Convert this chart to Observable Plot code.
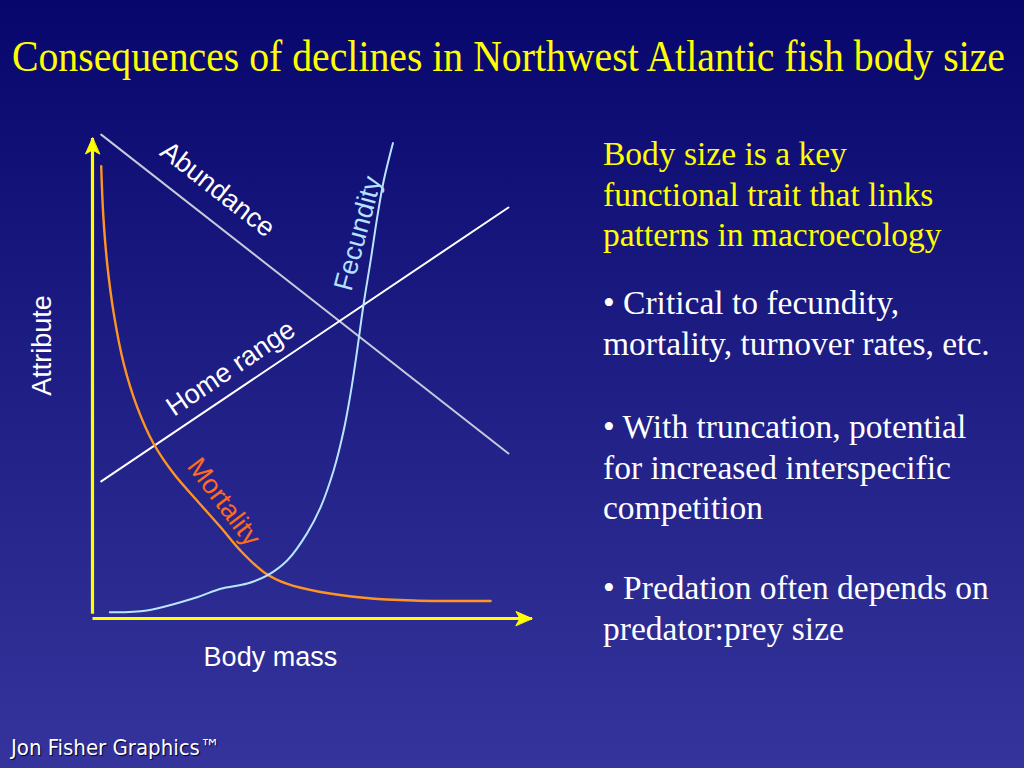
<!DOCTYPE html>
<html>
<head>
<meta charset="utf-8">
<script src="https://cdn.jsdelivr.net/npm/d3@7"></script>
<script src="https://cdn.jsdelivr.net/npm/@observablehq/plot@0.6"></script>
<style>
  html, body { margin: 0; padding: 0; }
  body {
    width: 1024px; height: 768px; overflow: hidden; position: relative;
    background: linear-gradient(to bottom, #07066c 0%, #1c1c82 45%, #34349c 100%);
  }
  #title {
    position: absolute; left: 12px; top: 34px;
    font-family: "Liberation Serif", "Times New Roman", serif; font-size: 45px; line-height: 45px;
    color: #ffff00; white-space: nowrap;
  }
  #title span { display: inline-block; transform-origin: left center; }
  .para {
    position: absolute; left: 603px; width: 421px;
    font-family: "Liberation Serif", "Times New Roman", serif; font-size: 33.5px; line-height: 40.5px;
    color: #ffffff; white-space: nowrap;
  }
  #chart { position: absolute; left: 0; top: 100px; }
  #footer {
    position: absolute; left: 11px; top: 735px;
    font-family: "DejaVu Sans Condensed", "DejaVu Sans", sans-serif; font-size: 22px;
    color: #ffffff; text-shadow: 1px 1px 1px #000033;
  }
</style>
</head>
<body>
<div id="title"><span>Consequences of declines in Northwest Atlantic fish body size</span></div>
<div class="para" style="top:134px;color:#ffff00">Body size is a key<br>functional trait that links<br>patterns in macroecology</div>
<div class="para" style="top:283px">• Critical to fecundity,<br>mortality, turnover rates, etc.</div>
<div class="para" style="top:407px">• With truncation, potential<br>for increased interspecific<br>competition</div>
<div class="para" style="top:568px">• Predation often depends on<br>predator:prey size</div>
<div id="chart"></div>
<div id="footer">Jon Fisher Graphics™</div>
<script>
// Conceptual curves (relative units, 0–100 on both axes)
const fecundityX = [3.97, 12.5, 24.0, 29.4, 35.5, 40.1, 44.7, 49.2, 52.3, 55.3, 57.6, 59.2, 60.7, 62.2, 63.8, 65.3, 66.8, 68.9];
const fecundityY = [1.33, 1.7, 4.5, 6.3, 7.4, 9.1, 12.3, 18.0, 23.5, 31.3, 39.7, 47.6, 56.7, 66.6, 75.7, 84.8, 92.6, 100.5];
const mortalityX = [2.0, 2.45, 3.37, 4.89, 7.18, 10.25, 14.06, 18.65, 24.0, 29.4, 33.9, 39.3, 44.7, 52.3, 62.2, 73.7, 91.3];
const mortalityY = [95.6, 85.6, 75.0, 64.4, 53.8, 44.7, 36.9, 30.6, 24.9, 19.3, 14.4, 9.8, 7.3, 5.6, 4.4, 3.8, 3.7];
const abundanceX = [2.0, 95.4];
const abundanceY = [102.3, 34.9];
const homeRangeX = [2.0, 95.4];
const homeRangeY = [29.0, 86.9];

const curveNames = ["Abundance", "Fecundity", "Home range", "Mortality"];
const labelX = [28.7, 60.9, 31.7, 30.1];
const labelY = [90.7, 81.4, 52.9, 24.6];
const labelAngle = [38, -75, -34, 53];

const axisNames = ["Body mass", "Attribute"];
// axis arrows: origin and tips
const axisX1 = [0, 0];
const axisY1 = [0, 1];
const axisX2 = [100.8, 0];
const axisY2 = [0, 101.6];
const axisDir = [90, 0];

const toPts = (xs, ys) => xs.map((x, i) => ({x, y: ys[i]}));
const labels = curveNames.map((name, i) => ({name, x: labelX[i], y: labelY[i], angle: labelAngle[i]}));
const labelColor = {"Abundance": "#ffffff", "Fecundity": "#b4e2ff", "Home range": "#ffffff", "Mortality": "#ff6a1c"};
const axes = axisX1.map((x1, i) => ({x1, y1: axisY1[i], x2: axisX2[i], y2: axisY2[i], dir: axisDir[i]}));

// filled, swept-back arrowhead; tip at the vector end
const headShape = {
  draw(context, l) {
    context.moveTo(0, -l);
    context.lineTo(-7, -l + 16);
    context.lineTo(0, -l + 12);
    context.lineTo(7, -l + 16);
    context.closePath();
  }
};

const chart = Plot.plot({
  width: 560,
  height: 600,
  marginLeft: 92,
  marginRight: 32,
  marginTop: 45,
  marginBottom: 82,
  x: {domain: [0, 100], axis: null},
  y: {domain: [0, 100], axis: null},
  style: {background: "transparent", overflow: "visible", fontFamily: "'Liberation Sans', Arial, sans-serif"},
  marks: [
    Plot.line(toPts(abundanceX, abundanceY), {x: "x", y: "y", stroke: "#c9c9dc", strokeWidth: 2}),
    Plot.line(toPts(homeRangeX, homeRangeY), {x: "x", y: "y", stroke: "#ffffff", strokeWidth: 2}),
    Plot.line(toPts(mortalityX, mortalityY), {x: "x", y: "y", stroke: "#ff9422", strokeWidth: 2.4, curve: "catmull-rom"}),
    Plot.line(toPts(fecundityX, fecundityY), {x: "x", y: "y", stroke: "#b8e6ff", strokeWidth: 2, curve: "catmull-rom"}),
    Plot.link(axes, {x1: "x1", y1: "y1", x2: "x2", y2: "y2", stroke: "#ffff00", strokeWidth: 3.2}),
    Plot.vector(axes, {x: "x2", y: "y2", rotate: "dir", length: 16, anchor: "end", shape: headShape, fill: "#ffff00", stroke: "#ffff00", strokeWidth: 1}),
    Plot.text(labels, {x: "x", y: "y", text: "name", rotate: "angle", fill: d => labelColor[d.name], fontSize: 27}),
    Plot.text([axisNames[0]], {x: 40.8, y: -8.2, text: d => d, fill: "#ffffff", fontSize: 27}),
    Plot.text([axisNames[1]], {x: -11.5, y: 57.7, text: d => d, rotate: -90, fill: "#ffffff", fontSize: 27})
  ]
});
document.getElementById("chart").appendChild(chart);

// fit title width as in the reference (condensed serif)
const t = document.querySelector("#title span");
t.style.transform = `scaleX(${993 / t.getBoundingClientRect().width})`;
</script>
</body>
</html>
